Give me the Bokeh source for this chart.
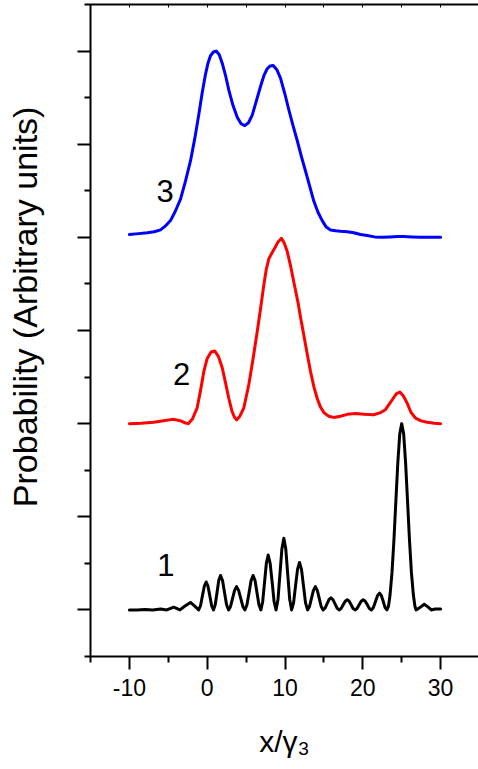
from bokeh.plotting import figure
from bokeh.models import Range1d, LinearAxis, FixedTicker, ColumnDataSource, CustomJSTickFormatter
from bokeh.core.properties import value
from bokeh.embed import file_html
from bokeh.resources import INLINE

# ---- data ----
curve1_x = [-10, -9, -8, -7, -6, -5.2, -4.3, -3.5, -2.9, -2.15, -1.6, -1.1,
            -0.86, -0.62, -0.37, -0.13, 0.10, 0.34, 0.57, 0.8,
            1.03, 1.26, 1.48, 1.71, 1.97, 2.23, 2.49, 2.75,
            3.0, 3.26, 3.52, 3.77, 4.04, 4.31, 4.58, 4.85,
            5.11, 5.38, 5.64, 5.9, 6.15, 6.4, 6.65, 6.9,
            7.13, 7.37, 7.6, 7.84, 8.09, 8.35, 8.6, 8.85,
            9.1, 9.35, 9.6, 9.85, 10.1, 10.35, 10.6, 10.85,
            11.1, 11.35, 11.61, 11.86, 12.12, 12.38, 12.64, 12.9,
            13.15, 13.4, 13.65, 13.9, 14.15, 14.4, 14.65, 14.9,
            15.15, 15.4, 15.65, 15.9, 16.16, 16.43, 16.69, 16.95,
            17.21, 17.48, 17.74, 18.0, 18.25, 18.5, 18.75, 19.0,
            19.26, 19.53, 19.79, 20.05, 20.31, 20.58, 20.84, 21.1,
            21.36, 21.63, 21.89, 22.15, 22.39, 22.63, 22.86, 23.1,
            23.3, 23.5, 23.75, 24.0, 24.25, 24.5, 24.75, 25.0,
            25.25, 25.5, 25.75, 26.0, 26.25, 26.5, 26.7, 26.85,
            27.4, 27.9, 28.4, 28.8, 29.3, 30.0]
curve1_p = [0, 0, 0.005, 0, 0.01, 0, 0.03, 0, 0.04, 0.08, 0.04, 0,
            0.045, 0.15, 0.255, 0.30, 0.255, 0.15, 0.045, 0,
            0.055, 0.185, 0.315, 0.37, 0.315, 0.185, 0.055, 0,
            0.037, 0.125, 0.21, 0.25, 0.21, 0.125, 0.037, 0,
            0.055, 0.185, 0.315, 0.37, 0.315, 0.185, 0.055, 0,
            0.088, 0.295, 0.50, 0.59, 0.50, 0.295, 0.088, 0,
            0.115, 0.385, 0.655, 0.77, 0.655, 0.385, 0.115, 0,
            0.075, 0.255, 0.435, 0.51, 0.435, 0.255, 0.075, 0,
            0.037, 0.125, 0.21, 0.25, 0.21, 0.125, 0.037, 0,
            0.02, 0.065, 0.11, 0.13, 0.11, 0.065, 0.02, 0,
            0.016, 0.055, 0.094, 0.11, 0.094, 0.055, 0.016, 0,
            0.016, 0.055, 0.094, 0.11, 0.094, 0.055, 0.016, 0,
            0.026, 0.09, 0.153, 0.18, 0.153, 0.09, 0.026, 0,
            0.04, 0.16, 0.40, 0.75, 1.17, 1.58, 1.89, 2.0,
            1.89, 1.58, 1.17, 0.75, 0.40, 0.16, 0.04, 0,
            0.03, 0.06, 0.03, 0.0, 0.01, 0.01]

curve2_x = [-10, -8.5, -6.86, -5.6, -4.5, -3.9, -3.4, -2.9, -2.44, -1.9, -1.29, -0.85,
            -0.43, 0.0, 0.5, 0.98, 1.45, 1.93, 2.35, 2.78, 3.2, 3.5, 3.77, 4.2,
            4.71, 5.35, 5.9, 6.43, 6.9, 7.28, 7.6, 7.92, 8.3, 8.65, 9.1, 9.55,
            9.9, 10.28, 10.7, 11.13, 11.65, 12.0, 12.42, 12.85, 13.28, 13.7, 14.14, 14.55,
            14.99, 15.6, 16.27, 17.13, 18.0, 19.06, 20.2, 21.4, 22.2, 22.9, 23.4, 23.9,
            24.3, 24.76, 25.2, 25.7, 26.2, 26.77, 27.5, 28.3, 29.2, 30.0]
curve2_p = [0.0, 0.005, 0.014, 0.03, 0.046, 0.04, 0.03, 0.01, 0.0, 0.05, 0.17, 0.36,
            0.56, 0.70, 0.77, 0.78, 0.72, 0.60, 0.44, 0.27, 0.13, 0.07, 0.04, 0.08,
            0.17, 0.42, 0.70, 0.99, 1.26, 1.49, 1.66, 1.77, 1.83, 1.88, 1.95, 1.99,
            1.94, 1.85, 1.70, 1.52, 1.31, 1.14, 0.95, 0.75, 0.56, 0.40, 0.27, 0.18,
            0.12, 0.08, 0.067, 0.08, 0.10, 0.11, 0.10, 0.096, 0.115, 0.15, 0.21, 0.27,
            0.32, 0.34, 0.30, 0.22, 0.12, 0.06, 0.03, 0.015, 0.005, 0.0]

curve3_x = [-10, -8.8, -7.7, -6.8, -6.0, -5.4, -4.72, -4.1, -3.43, -2.8, -2.15, -1.6,
            -1.08, -0.65, -0.22, 0.1, 0.42, 0.8, 1.16, 1.55, 1.93, 2.35, 2.78, 3.3,
            3.86, 4.35, 4.83, 5.3, 5.78, 6.3, 6.85, 7.3, 7.71, 8.1, 8.48, 8.95,
            9.42, 9.95, 10.49, 11.03, 11.57, 12.1, 12.64, 13.17, 13.7, 14.24, 14.78, 15.3,
            15.85, 16.5, 17.13, 18.0, 18.84, 19.7, 20.56, 21.5, 22.5, 23.5, 24.5, 25.3,
            26.3, 27.5, 30.0]
curve3_p = [0.03, 0.04, 0.05, 0.06, 0.08, 0.12, 0.18, 0.28, 0.41, 0.60, 0.82, 1.06,
            1.32, 1.55, 1.75, 1.87, 1.95, 1.99, 2.0, 1.96, 1.87, 1.74, 1.58, 1.42,
            1.29, 1.22, 1.20, 1.23, 1.31, 1.46, 1.62, 1.74, 1.81, 1.84, 1.845, 1.80,
            1.71, 1.55, 1.37, 1.20, 1.04, 0.87, 0.71, 0.55, 0.39, 0.27, 0.18, 0.11,
            0.08, 0.07, 0.065, 0.06, 0.05, 0.03, 0.02, 0.005, 0.0, 0.005, 0.01, 0.01,
            0.005, 0.0, 0.0]

curve_names = ["1", "2", "3"]
curve_offsets = [0.5, 2.5, 4.5]
curve_colors = ["#000000", "#ff0000", "#0000ff"]

x_tick_values = [-10, 0, 10, 20, 30]
x_tick_labels = ["-10", "0", "10", "20", "30"]
x_minor_values = [-15, -5, 5, 15, 25, 35]
y_major_values = [0.5, 1.5, 2.5, 3.5, 4.5, 5.5, 6.5]
y_minor_values = [0, 1, 2, 3, 4, 5, 6, 7]
top_tick_values = [-15, -10, -5, 0, 5, 10, 15, 20, 25, 30, 35]

x_title = "x/γ₃"
y_title = "Probability (Arbitrary units)"

name_x = [-5.3, -3.3, -5.4]
name_y = [0.98, 3.03, 5.0]

FONT = "Liberation Sans"

p = figure(width=478, height=769, x_range=Range1d(-15, 34.87), y_range=Range1d(0, 7),
           x_axis_type=None, y_axis_type=None, output_backend="svg",
           toolbar_location=None)
p.outline_line_color = None
p.background_fill_color = "white"
p.border_fill_color = "white"
p.min_border_left = 90
p.min_border_right = 0
p.min_border_top = 4
p.min_border_bottom = 113

for xs, ps, off, col in zip([curve1_x, curve2_x, curve3_x],
                            [curve1_p, curve2_p, curve3_p],
                            curve_offsets, curve_colors):
    src = ColumnDataSource(dict(x=xs, y=[v + off for v in ps]))
    p.line("x", "y", source=src, line_color=col, line_width=3,
           line_join="round", line_cap="round")

p.text(x=name_x, y=name_y, text=curve_names, text_font=value(FONT),
       text_font_size="31px", text_color="black", text_align="center",
       text_baseline="middle")

blank = CustomJSTickFormatter(code="return '';")

bottom = LinearAxis(ticker=FixedTicker(ticks=x_tick_values, minor_ticks=x_minor_values),
                    major_label_overrides={v: s for v, s in zip(x_tick_values, x_tick_labels)})
bottom.axis_line_width = 2
bottom.major_tick_line_width = 2
bottom.minor_tick_line_width = 2
bottom.major_tick_out = 13
bottom.major_tick_in = 0
bottom.minor_tick_out = 6
bottom.minor_tick_in = 0
bottom.major_label_text_font = FONT
bottom.major_label_text_font_size = "23px"
bottom.major_label_text_color = "black"
bottom.major_label_standoff = 9
bottom.axis_label = x_title
bottom.axis_label_text_font = FONT
bottom.axis_label_text_font_size = "30px"
bottom.axis_label_text_font_style = "normal"
bottom.axis_label_text_color = "black"
bottom.axis_label_standoff = 26
p.add_layout(bottom, "below")

left = LinearAxis(ticker=FixedTicker(ticks=y_major_values, minor_ticks=y_minor_values),
                  formatter=blank)
left.axis_line_width = 2
left.major_tick_line_width = 2
left.minor_tick_line_width = 2
left.major_tick_out = 13
left.major_tick_in = 0
left.minor_tick_out = 6
left.minor_tick_in = 0
left.major_label_standoff = 0
# leading no-break spaces shift the centred title upwards, as in the original
left.axis_label = "\u00a0" * 5 + y_title
left.axis_label_text_font = FONT
left.axis_label_text_font_size = "34px"
left.axis_label_text_font_style = "normal"
left.axis_label_text_color = "black"
left.axis_label_standoff = 34
p.add_layout(left, "left")

top = LinearAxis(ticker=FixedTicker(ticks=top_tick_values, minor_ticks=[]), formatter=blank)
top.axis_line_width = 2
top.major_tick_line_width = 1
top.major_tick_in = 3
top.major_tick_out = 0
top.major_label_standoff = 0
p.add_layout(top, "above")

open("out.html", "w").write(file_html(p, INLINE))
